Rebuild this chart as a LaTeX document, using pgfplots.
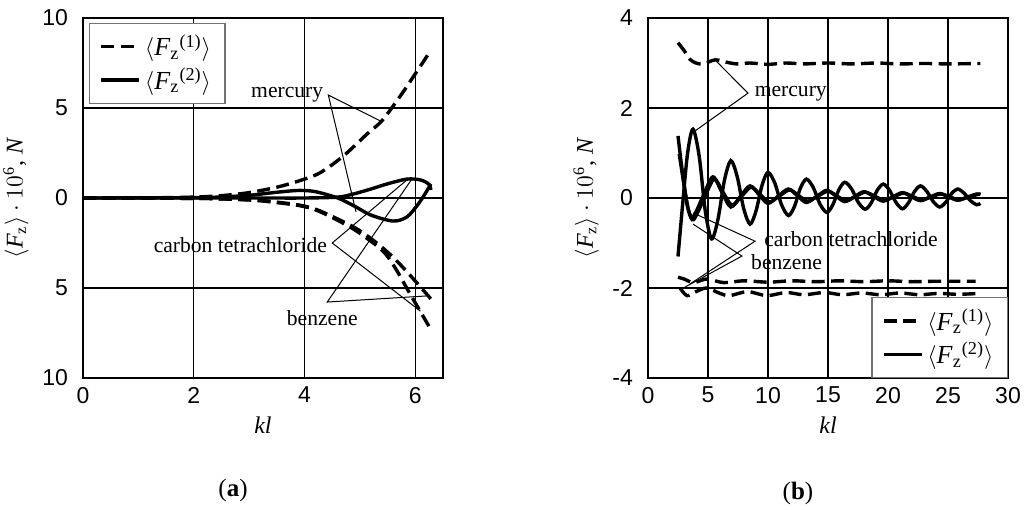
\documentclass[border=0pt]{standalone}
\usepackage{fontspec}
\setmainfont{Liberation Serif}
\newfontfamily\arial{Liberation Sans}
\usepackage{pgfplots}
\pgfplotsset{compat=1.18}

\pgfplotsset{
  panel/.style={
    scale only axis, width=180pt, height=180pt, anchor=south west,
    axis line style={line width=1pt},
    grid=major, major grid style={black, line width=0.7pt},
    major tick length=0pt,
    tick label style={font=\arial\fontsize{11.5}{13}\selectfont},
    yticklabel style={xshift=-4pt},
    xticklabel style={yshift=-1pt},
    label style={font=\fontsize{12}{14}\selectfont},
    xlabel={\textit{kl}},
    ylabel={$\langle$\textit{F}\textsubscript{z}$\rangle\cdot 10$\textsuperscript{6}, \textit{N}},
    legend style={draw=black!55, line width=0.6pt, font=\fontsize{13}{15}\selectfont,
      inner xsep=5pt, inner ysep=3.5pt, row sep=0.5pt},
    legend cell align=left,
    legend image code/.code={\draw[#1] (0pt,0pt) -- (19pt,0pt);},
  },
}
\tikzset{
  fz/.style={black, line width=1.7pt, smooth},
  fzd/.style={fz, dash pattern=on 6.5pt off 3.2pt},
  callout/.style={black, line width=0.5pt},
  note/.style={font=\fontsize{10.8}{12}\selectfont, inner sep=1pt},
}

\begin{document}
\begin{tikzpicture}
\useasboundingbox (0pt,0pt) rectangle (516.5pt,254.5pt);

% (a)
\begin{axis}[panel, at={(41.5pt,65.5pt)},
  xmin=0, xmax=6.5, ymin=-10, ymax=10,
  xtick={0,2,4,6}, xticklabels={0,2,4,6},
  ytick={-10,-5,0,5,10}, yticklabels={10,5,0,5,10},
  legend style={at={(axis description cs:0,1)}, anchor=north west, xshift=3pt, yshift=-2.5pt},
]
% mercury
\addplot[fzd, forget plot] coordinates {
  (0,0)(1,0.005)(1.5,0.02)(2,0.05)(2.5,0.13)(3,0.3)(3.5,0.6)(3.9,0.95)(4.28,1.4)
  (4.7,2.33)(5.13,3.56)(5.4,4.3)(5.73,5.67)(6.0,6.9)(6.28,8.2)};
% carbon tetrachloride / benzene
\addplot[fzd, forget plot] coordinates {
  (0,0)(2,-0.02)(2.5,-0.05)(3,-0.1)(3.32,-0.17)(3.92,-0.4)(4.28,-0.72)(4.88,-1.6)
  (5.22,-2.3)(5.55,-3.15)(5.85,-4.1)(6.28,-5.6)};
\addplot[fzd, forget plot] coordinates {
  (0,0)(2,-0.02)(2.5,-0.05)(3,-0.11)(3.32,-0.19)(3.92,-0.43)(4.28,-0.76)(4.88,-1.72)
  (5.4,-2.9)(5.64,-3.9)(5.9,-5.3)(6.28,-7.3)};
\addplot[fz, forget plot] coordinates {
  (0,0)(2,0.02)(2.5,0.06)(3,0.15)(3.5,0.32)(3.9,0.42)(4.2,0.35)(4.6,0.0)
  (4.9,-0.45)(5.2,-0.95)(5.6,-1.28)(5.85,-1.05)(6.05,-0.35)(6.18,0.25)(6.28,0.78)};
\addplot[fz, forget plot] coordinates {
  (0,0)(3,0.0)(4,0.0)(4.6,0.05)(4.88,0.22)(5.2,0.5)(5.49,0.78)(5.85,1.05)
  (6.1,1.0)(6.25,0.75)(6.28,0.45)};
\addlegendimage{fzd}
\addlegendimage{fz}
\legend{$\langle$\textit{F}\textsubscript{z}\textsuperscript{(1)}$\rangle$\hspace{6pt},
        $\langle$\textit{F}\textsubscript{z}\textsuperscript{(2)}$\rangle$\hspace{6pt}}
% labels
\draw[callout] (5.37,4.28) -- (4.43,5.72) -- (4.93,-0.78);
\node[note, anchor=east] at (4.38,5.72) {mercury};
\draw[callout] (5.87,1.06) -- (4.50,-2.5) -- (6.09,-6.28);
\node[note, anchor=east] at (4.45,-2.62) {carbon tetrachloride};
\draw[callout] (5.94,1.06) -- (4.41,-5.78) -- (6.21,-5.44);
\node[note] at (4.32,-6.7) {benzene};
\end{axis}

% (b)
\begin{axis}[panel, at={(324pt,65.5pt)},
  xmin=0, xmax=30, ymin=-4, ymax=4,
  xtick={0,5,...,30}, xticklabels={0,5,10,15,20,25,30},
  ytick={-4,-2,0,2,4}, yticklabels={-4,-2,0,2,4},
  legend style={at={(axis description cs:1,0)}, anchor=south east},
]
% mercury
\addplot[fzd, forget plot] coordinates {
  (2.5,3.45)(3.0,3.28)(3.5,3.08)(4.0,3.0)(4.6,2.98)(5.6,3.07)(6.5,3.02)(7.4,2.98)
  (8.5,3.0)(10,2.97)(11.5,3.0)(13,2.98)(15,3.0)(17,2.98)(19,3.0)(21,2.98)(23,2.99)
  (25,2.98)(27.7,2.99)};
\addplot[fzd, forget plot] coordinates {
  (2.5,-1.76)(3.0,-1.8)(3.8,-1.88)(4.9,-1.8)(6.3,-1.88)(8,-1.84)(10,-1.87)(12,-1.84)
  (14,-1.86)(16,-1.84)(18,-1.86)(20,-1.84)(22,-1.86)(24,-1.85)(27.3,-1.85)};
\addplot[fzd, forget plot] coordinates {
  (2.67,-2.0)(3.25,-2.17)(4.0,-2.08)(4.9,-2.0)(6.0,-2.12)(6.8,-2.17)(8.3,-2.08)
  (9.9,-2.17)(11.5,-2.1)(13.0,-2.15)(14.7,-2.1)(16.2,-2.15)(17.8,-2.11)(19.4,-2.15)
  (21,-2.11)(22.6,-2.15)(24.2,-2.12)(25.8,-2.14)(27.7,-2.12)};
% mercury, solid
\addplot[fz, forget plot] coordinates {
  (2.5,-1.3)(2.9,-0.1)(3.3,1.0)(3.75,1.53)(4.27,0.92)(4.78,-0.30)(5.3,-0.91)
  (5.83,-0.475)(6.37,0.395)(6.9,0.83)(7.43,0.48)(7.97,-0.23)(8.5,-0.58)(9.0,-0.29)
  (9.5,0.28)(10.0,0.57)(10.57,0.33)(11.13,-0.15)(11.7,-0.39)(12.2,-0.19)(12.7,0.22)
  (13.2,0.42)(13.77,0.235)(14.33,-0.135)(14.9,-0.32)(15.4,-0.15)(15.9,0.18)(16.4,0.35)
  (16.97,0.2)(17.53,-0.1)(18.1,-0.25)(18.6,-0.11)(19.1,0.17)(19.6,0.31)(20.13,0.17)
  (20.67,-0.1)(21.2,-0.24)(21.7,-0.11)(22.2,0.14)(22.7,0.27)(23.23,0.15)(23.77,-0.08)
  (24.3,-0.2)(24.8,-0.1)(25.3,0.1)(25.8,0.2)(26.33,0.11)(26.87,-0.06)(27.4,-0.15)
  (27.7,-0.12)};
% carbon tetrachloride, solid
\addplot[fz, forget plot] coordinates {
  (2.5,1.38)(2.9,0.5)(3.3,-0.2)(3.75,-0.42)(4.57,0.03)(5.4,0.47)(6.15,0.13)(6.9,-0.2)
  (7.7,0.035)(8.5,0.27)(9.25,0.075)(10.0,-0.12)(10.85,0.04)(11.7,0.2)(12.45,0.05)
  (13.2,-0.1)(14.05,0.035)(14.9,0.17)(15.65,0.045)(16.4,-0.08)(17.2,0.03)(18.0,0.14)
  (18.8,0.035)(19.6,-0.07)(20.4,0.025)(21.2,0.12)(21.95,0.03)(22.7,-0.06)(23.5,0.02)
  (24.3,0.1)(25.05,0.025)(25.8,-0.05)(26.6,0.02)(27.4,0.09)(27.7,0.08)};
% benzene, solid
\addplot[fz, forget plot] coordinates {
  (2.6,0.98)(3.0,0.3)(3.4,-0.3)(3.8,-0.48)(4.65,-0.03)(5.5,0.42)(6.25,0.13)(7.0,-0.16)
  (7.8,0.04)(8.6,0.24)(9.35,0.075)(10.1,-0.09)(10.95,0.045)(11.8,0.18)(12.55,0.055)
  (13.3,-0.07)(14.15,0.04)(15.0,0.15)(15.75,0.045)(16.5,-0.06)(17.3,0.035)(18.1,0.13)
  (18.9,0.04)(19.7,-0.05)(20.5,0.03)(21.3,0.11)(22.05,0.035)(22.8,-0.04)(23.6,0.025)
  (24.4,0.09)(25.15,0.025)(25.9,-0.04)(26.7,0.02)(27.5,0.08)(27.7,0.075)};
\addlegendimage{fzd}
\addlegendimage{fz}
\legend{$\langle$\textit{F}\textsubscript{z}\textsuperscript{(1)}$\rangle$\hspace{6pt},
        $\langle$\textit{F}\textsubscript{z}\textsuperscript{(2)}$\rangle$\hspace{6pt}}
% labels
\draw[callout] (5.58,3.07) -- (8.33,2.33) -- (3.92,1.49);
\node[note, anchor=west] at (8.7,2.31) {mercury};
\draw[callout] (3.75,-0.33) -- (8.92,-0.96) -- (3.5,-1.91);
\node[note, anchor=west] at (9.5,-0.91) {carbon tetrachloride};
\draw[callout] (3.75,-0.58) -- (7.83,-1.29) -- (2.67,-2.04);
\node[note, anchor=west] at (8.4,-1.42) {benzene};
\end{axis}

\node[font=\fontsize{12.5}{14}\selectfont] at (116.5pt,9.5pt) {(\textbf{a})};
\node[font=\fontsize{12.5}{14}\selectfont] at (399pt,8pt) {(\textbf{b})};
\end{tikzpicture}
\end{document}
